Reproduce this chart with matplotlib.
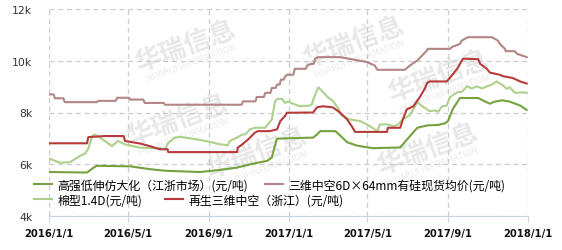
import pandas as pd
import matplotlib
matplotlib.use("Agg")
import matplotlib.pyplot as plt
from matplotlib.ticker import FuncFormatter

plt.rcParams['font.family'] = ['Noto Sans CJK SC', 'DejaVu Sans']

# 高强低伸仿大化（江浙市场）
dates_gq = ["2016-01-01", "2016-02-28", "2016-03-08", "2016-03-14", "2016-05-04", "2016-06-03",
            "2016-06-26", "2016-08-18", "2016-09-18", "2016-10-14", "2016-11-03", "2016-11-29",
            "2016-12-06", "2016-12-12", "2016-12-14", "2017-02-07", "2017-02-13", "2017-02-18",
            "2017-03-13", "2017-03-20", "2017-03-31", "2017-04-15", "2017-05-09", "2017-06-20",
            "2017-06-24", "2017-07-05", "2017-07-16", "2017-07-31", "2017-08-17", "2017-08-27",
            "2017-09-01", "2017-09-08", "2017-09-19", "2017-10-17", "2017-10-27", "2017-11-04",
            "2017-11-11", "2017-11-23", "2017-12-04", "2017-12-20", "2017-12-30"]
vals_gq = [5700, 5680, 5850, 5940, 5920, 5810,
           5750, 5700, 5780, 5870, 6000, 6130,
           6260, 6830, 6990, 7030, 7150, 7280,
           7280, 7120, 6850, 6720, 6620, 6650,
           6770, 7090, 7410, 7500, 7520, 7580,
           7670, 8120, 8560, 8560, 8430, 8340,
           8420, 8470, 8420, 8270, 8100]

# 三维中空6D×64mm有硅现货均价
dates_sw = ["2016-01-01", "2016-01-08", "2016-01-10", "2016-01-23", "2016-01-25", "2016-03-14",
            "2016-03-16", "2016-04-12", "2016-04-14", "2016-05-02", "2016-05-04", "2016-05-24",
            "2016-05-26", "2016-06-24", "2016-06-26", "2016-10-21", "2016-10-23", "2016-11-11",
            "2016-11-13", "2016-11-24", "2016-11-26", "2016-12-04", "2016-12-06", "2016-12-12",
            "2016-12-14", "2016-12-18", "2016-12-20", "2016-12-24", "2016-12-26", "2016-12-29",
            "2017-01-08", "2017-01-10", "2017-01-27", "2017-01-29", "2017-02-05", "2017-02-08",
            "2017-02-10", "2017-02-15", "2017-03-20", "2017-04-09", "2017-04-30", "2017-05-12",
            "2017-05-16", "2017-06-27", "2017-07-05", "2017-07-16", "2017-07-31", "2017-08-01",
            "2017-09-04", "2017-09-07", "2017-09-19", "2017-09-22", "2017-10-01", "2017-11-07",
            "2017-11-16", "2017-11-19", "2017-11-27", "2017-11-28", "2017-12-12", "2017-12-15",
            "2017-12-23", "2017-12-30"]
vals_sw = [8700, 8700, 8550, 8550, 8400, 8400,
           8450, 8450, 8570, 8570, 8500, 8500,
           8370, 8370, 8300, 8300, 8430, 8430,
           8600, 8600, 8760, 8760, 8950, 8950,
           9080, 9080, 9270, 9270, 9370, 9460,
           9460, 9690, 9690, 9820, 9880, 9880,
           10080, 10140, 10140, 10050, 9950, 9820,
           9650, 9650, 9820, 10010, 10400, 10460,
           10460, 10530, 10650, 10780, 10910, 10910,
           10780, 10650, 10460, 10370, 10370, 10270,
           10200, 10140]

# 棉型1.4D
dates_mx = ["2016-01-01", "2016-01-18", "2016-02-02", "2016-02-17", "2016-02-25", "2016-03-01",
            "2016-03-07", "2016-03-11", "2016-03-19", "2016-03-30", "2016-04-06", "2016-04-15",
            "2016-04-26", "2016-05-19", "2016-06-18", "2016-06-26", "2016-07-01", "2016-07-11",
            "2016-07-19", "2016-08-14", "2016-09-03", "2016-09-18", "2016-09-30", "2016-10-03",
            "2016-10-14", "2016-10-22", "2016-10-26", "2016-11-03", "2016-11-10", "2016-11-26",
            "2016-11-30", "2016-12-06", "2016-12-11", "2016-12-14", "2016-12-22", "2016-12-26",
            "2016-12-31", "2017-01-06", "2017-01-18", "2017-02-02", "2017-02-05", "2017-02-10",
            "2017-02-15", "2017-02-22", "2017-03-01", "2017-03-09", "2017-03-17", "2017-03-22",
            "2017-04-04", "2017-04-20", "2017-05-05", "2017-05-16", "2017-05-20", "2017-06-01",
            "2017-06-09", "2017-06-16", "2017-06-24", "2017-07-05", "2017-07-16", "2017-07-25",
            "2017-08-04", "2017-08-12", "2017-08-17", "2017-08-23", "2017-08-30", "2017-09-04",
            "2017-09-15", "2017-09-22", "2017-09-30", "2017-10-07", "2017-10-15", "2017-10-23",
            "2017-10-30", "2017-11-07", "2017-11-14", "2017-11-22", "2017-11-30", "2017-12-04",
            "2017-12-12", "2017-12-24", "2017-12-30"]
vals_mx = [6220, 6060, 6080, 6320, 6410, 6600,
           7090, 7150, 7030, 6830, 6700, 6900,
           6770, 6640, 6620, 6580, 6830, 7030,
           7060, 6960, 6860, 6770, 6730, 6900,
           7030, 7150, 7150, 7350, 7410, 7410,
           7540, 7730, 8430, 8520, 8520, 8370,
           8430, 8350, 8240, 8270, 8310, 8690,
           8970, 8800, 8600, 8450, 8180, 7900,
           7730, 7670, 7470, 7280, 7540, 7540,
           7470, 7520, 7730, 7900, 8400, 8220,
           8050, 8080, 8030, 8240, 8270, 8600,
           8780, 8800, 9010, 8930, 9010, 8930,
           9010, 9080, 9200, 9080, 8910, 8980,
           8760, 8780, 8760]

# 再生三维中空（浙江）
dates_zs = ["2016-01-01", "2016-02-28", "2016-03-01", "2016-03-26", "2016-04-24", "2016-04-26",
            "2016-05-19", "2016-06-03", "2016-06-18", "2016-06-30", "2016-07-01", "2016-10-14",
            "2016-10-15", "2016-10-22", "2016-10-31", "2016-11-10", "2016-11-15", "2016-12-03",
            "2016-12-14", "2016-12-19", "2016-12-26", "2016-12-29", "2017-02-07", "2017-02-13",
            "2017-02-22", "2017-03-09", "2017-03-20", "2017-03-31", "2017-04-07", "2017-04-12",
            "2017-05-31", "2017-06-01", "2017-06-20", "2017-06-24", "2017-06-30", "2017-07-10",
            "2017-07-20", "2017-07-28", "2017-07-31", "2017-08-04", "2017-08-30", "2017-09-07",
            "2017-09-15", "2017-09-22", "2017-09-24", "2017-10-17", "2017-10-20", "2017-10-30",
            "2017-11-04", "2017-11-19", "2017-11-23", "2017-12-09", "2017-12-20", "2017-12-30"]
vals_zs = [6810, 6810, 7050, 7090, 7090, 6900,
           6800, 6700, 6580, 6580, 6470, 6470,
           6640, 6770, 6960, 7220, 7280, 7280,
           7350, 7670, 7860, 7990, 8000, 8200,
           8240, 8200, 8000, 7730, 7470, 7250,
           7250, 7410, 7410, 7730, 8120, 8240,
           8600, 8950, 9140, 9200, 9200, 9440,
           9690, 10010, 10080, 10060, 9880, 9690,
           9540, 9460, 9410, 9330, 9200, 9120]

labels = ["高强低伸仿大化（江浙市场）(元/吨)", "三维中空6D×64mm有硅现货均价(元/吨)",
          "棉型1.4D(元/吨)", "再生三维中空（浙江）(元/吨)"]
colors = ["#76a13f", "#b38585", "#add08c", "#b83b3b"]

tick_dates = ["2016-01-01", "2016-05-01", "2016-09-01", "2017-01-01",
              "2017-05-01", "2017-09-01", "2018-01-01"]
tick_labels = ["2016/1/1", "2016/5/1", "2016/9/1", "2017/1/1",
               "2017/5/1", "2017/9/1", "2018/1/1"]

W, H = 562, 251
fig = plt.figure(figsize=(W / 100, H / 100), dpi=100)
ax = fig.add_axes([49 / W, 1 - 217 / H, (528 - 49) / W, (217 - 10) / H])

series = [(dates_gq, vals_gq), (dates_sw, vals_sw), (dates_mx, vals_mx), (dates_zs, vals_zs)]
handles = []
for (d, v), lab, c in zip(series, labels, colors):
    h, = ax.plot(pd.to_datetime(d), v, color=c, lw=1.5, label=lab, zorder=3)
    handles.append(h)

# watermark
marks = [(186, 47), (178, 121), (257, 154), (354, 43), (439, 77), (428, 150)]
for cx, cy in marks:
    ax.text(cx / W, 1 - cy / H, "华瑞信息", transform=fig.transFigure, fontsize=19,
            fontweight="bold", color="#e8e8e8", rotation=20, ha="center", va="center", zorder=1)
    ax.text((cx + 6) / W, 1 - (cy + 16) / H, "HUARUI INFORMATION", transform=fig.transFigure,
            fontsize=6, color="#ebebeb", rotation=20, ha="center", va="center", zorder=1,
            family="DejaVu Sans")

ax.set_xlim(pd.Timestamp("2016-01-01"), pd.Timestamp("2018-01-01"))
ax.set_ylim(4000, 12000)
ax.set_yticks([4000, 6000, 8000, 10000, 12000])
ax.yaxis.set_major_formatter(FuncFormatter(lambda v, p: f"{v / 1000:.0f}k"))
ax.set_xticks(pd.to_datetime(tick_dates))
ax.set_xticklabels(tick_labels, fontweight="bold", fontsize=7.2, family="DejaVu Sans")
for t in ax.get_yticklabels():
    t.set_family("DejaVu Sans")
ax.tick_params(axis="y", length=0, pad=12, labelsize=7.8, labelcolor="#333333")
ax.tick_params(axis="x", length=4, color="#c8d4e3", pad=5, labelcolor="#111111")

ax.grid(True, color="#cccccc", linestyle=(0, (4, 3)), linewidth=0.9)
for s in ["top", "right", "left"]:
    ax.spines[s].set_visible(False)
ax.spines["bottom"].set_color("#c8d4e3")

# legend laid out in two rows, flowing left to right
leg_kw = dict(ncol=2, loc="center left", bbox_transform=fig.transFigure, frameon=False,
              fontsize=8.6, handlelength=1.5, handletextpad=0.45,
              borderpad=0, borderaxespad=0)
leg1 = ax.legend([handles[0], handles[1]], [labels[0], labels[1]],
                 bbox_to_anchor=(34 / W, 1 - 186 / H), columnspacing=1.4, **leg_kw)
ax.add_artist(leg1)
ax.legend([handles[2], handles[3]], [labels[2], labels[3]],
          bbox_to_anchor=(34 / W, 1 - 201 / H), columnspacing=1.9, **leg_kw)

fig.savefig("out.png", dpi=100)
